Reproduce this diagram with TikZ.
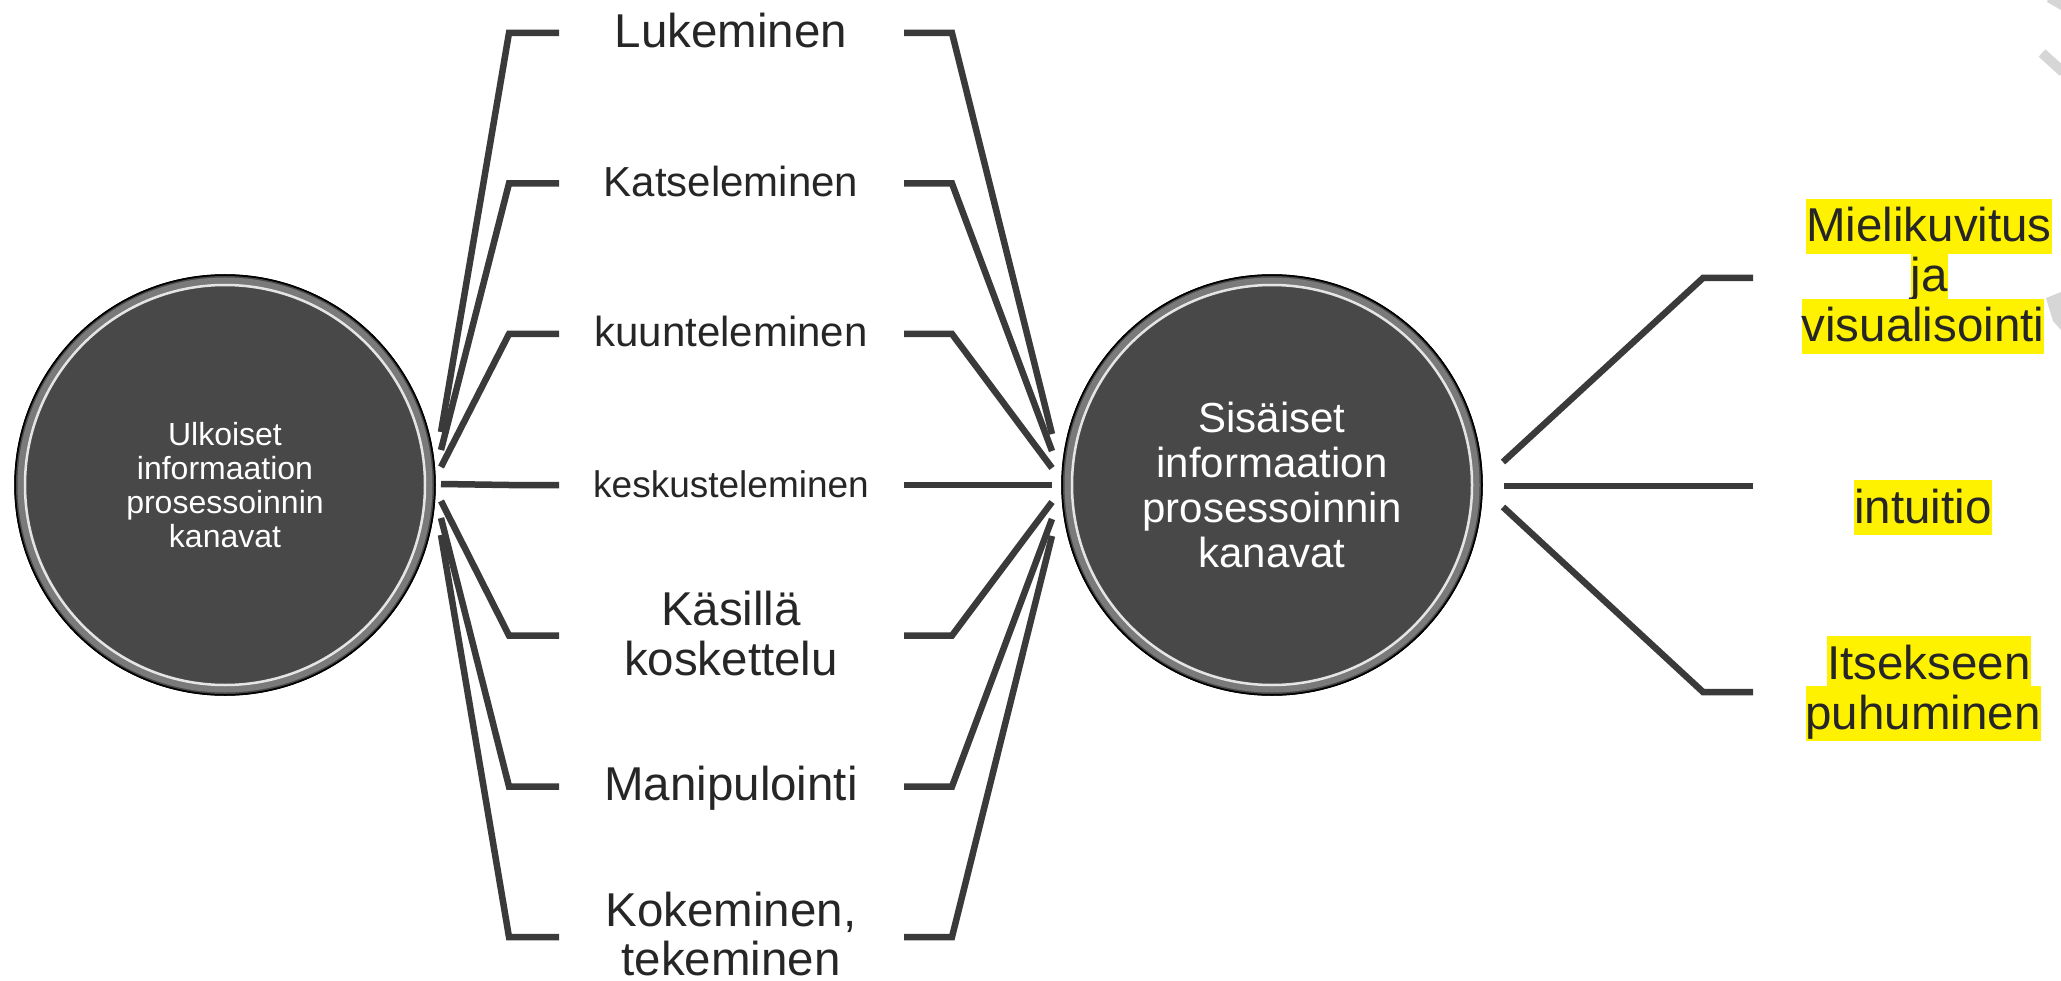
\documentclass[tikz,border=0pt]{standalone}
\usepackage{fontspec}
\setmainfont{Liberation Sans}
\definecolor{linec}{HTML}{3A3A3A}
\definecolor{txtc}{HTML}{262626}
\definecolor{balldark}{HTML}{484848}
\definecolor{ringgray}{HTML}{8C8C8C}
\definecolor{fragc}{HTML}{D6D6D6}
\begin{document}
\begin{tikzpicture}[x=1pt,y=-1pt,
  conn/.style={draw=linec, line width=6.5pt},
  lbl/.style={text=txtc, inner sep=0pt, anchor=base},
  hl/.style={fill=yellow, text=txtc, inner sep=0pt, text height=43pt, text depth=12pt, anchor=base,
             font=\fontsize{47.5}{50}\selectfont},
  ball/.style={circle, fill=balldark, draw=black, line width=1.5pt, minimum size=420pt,
               inner sep=0pt, text=white, align=center},
  bigf/.style={font=\fontsize{47.5}{50}\selectfont},
  midf/.style={font=\fontsize{42}{45}\selectfont},
  smlf/.style={font=\fontsize{37}{40}\selectfont}
]
\useasboundingbox (0,0) rectangle (2061,981);
\fill[white] (0,0) rectangle (2061,981);

% faint fragments at the right edge
\draw[fragc, line width=9pt] (2049,-2) -- (2063,6);
\draw[fragc, line width=10pt] (2042,53) -- (2063,72);
\fill[fragc] (2046,298) -- (2061,292) -- (2061,330) -- (2053,321) -- cycle;

% circles
\node[ball, font=\fontsize{32}{34}\selectfont] (ext) at (225,485)
  {Ulkoiset\\informaation\\prosessoinnin\\kanavat};
\node[ball, font=\fontsize{42}{45}\selectfont] (int) at (1272,485)
  {Sisäiset\\informaation\\prosessoinnin\\kanavat};
\foreach \n in {ext,int}{
  \draw[ringgray, line width=7pt, opacity=0.75] (\n.center) circle (204pt);
  \draw[white, line width=2.5pt, opacity=0.85] (\n.center) circle (200pt);
  \draw[black, line width=1.5pt] (\n.center) circle (210pt);
}

% left-middle connectors
\foreach \i/\r/\a/\b in {1/33/432/434, 2/183.5/450/451, 3/334/467/468, 4/485/484/485,
                          5/635.5/501/502, 6/786.5/518/519, 7/937/535/536}{
  \coordinate (el\i) at (441,\a);
  \coordinate (bl\i) at (509,\r);
  \coordinate (tl\i) at (559,\r);
  \coordinate (tr\i) at (904,\r);
  \coordinate (br\i) at (952,\r);
  \coordinate (er\i) at (1052,\b);
  \draw[conn] (el\i) -- (bl\i) -- (tl\i);
  \draw[conn] (tr\i) -- (br\i) -- (er\i);
}

% middle labels
\node[lbl, bigf] (m1) at (731,48) {Lukeminen};
\node[lbl, midf] (m2) at (731,196.5) {Katseleminen};
\node[lbl, midf] (m3) at (731,347) {kuunteleminen};
\node[lbl, smlf] (m4) at (731,497) {keskusteleminen};
\node[lbl, bigf] (m5a) at (731,625.5) {Käsillä};
\node[lbl, bigf] (m5b) at (731,675.5) {koskettelu};
\node[lbl, bigf] (m6) at (731,800) {Manipulointi};
\node[lbl, bigf] (m7a) at (731,926) {Kokeminen,};
\node[lbl, bigf] (m7b) at (731,975) {tekeminen};

% right connectors
\coordinate (s1) at (1503,462); \coordinate (k1) at (1703,278); \coordinate (f1) at (1753,278);
\coordinate (s2) at (1504,486); \coordinate (f2) at (1753,486);
\coordinate (s3) at (1503,507); \coordinate (k3) at (1703,692); \coordinate (f3) at (1753,692);
\draw[conn] (s1) -- (k1) -- (f1);
\draw[conn] (s2) -- (f2);
\draw[conn] (s3) -- (k3) -- (f3);

% right labels (highlighted)
\node[hl] (ja) at (1929,292) {ja\hspace{0.278em}};
\node[hl] (r1a) at (1929,242) {Mielikuvitus\hspace{0.278em}};
\node[hl] (r1c) at (1923,342) {visualisointi};
\node[hl] (r2) at (1923,523) {intuitio};
\node[hl] (r3b) at (1923,729) {puhuminen};
\node[hl] (r3a) at (1929,679) {Itsekseen\hspace{0.278em}};
\end{tikzpicture}
\end{document}
